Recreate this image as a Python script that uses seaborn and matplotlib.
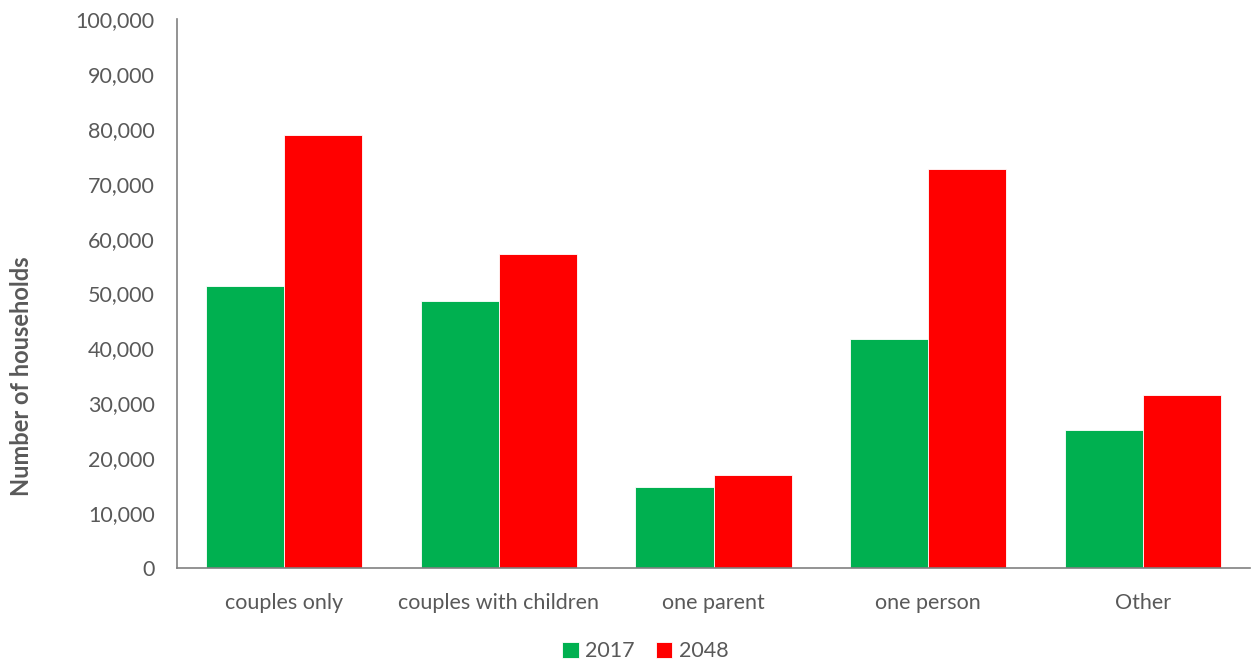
import matplotlib
matplotlib.use("Agg")
import matplotlib.pyplot as plt
import seaborn as sns
import pandas as pd
from matplotlib.ticker import FuncFormatter, MultipleLocator

categories = ["couples only", "couples with children", "one parent", "one person", "Other"]
years = ["2017", "2048"]
values_2017 = [51400, 48600, 14700, 41800, 25100]
values_2048 = [78900, 57200, 17000, 72700, 31600]
colors = ["#00B050", "#FF0000"]

df = pd.DataFrame({
    "category": categories * 2,
    "year": [years[0]] * len(categories) + [years[1]] * len(categories),
    "value": values_2017 + values_2048,
})

sns.set_theme(style="white")
plt.rcParams["font.family"] = ["Lato", "DejaVu Sans"]

fig = plt.figure(figsize=(12.58, 6.64), dpi=100)
ax = fig.add_axes([177 / 1258, 1 - 568 / 664, (1250 - 177) / 1258, (568 - 19) / 664])

sns.barplot(data=df, x="category", y="value", hue="year", order=categories,
            hue_order=years, palette=colors, width=0.727, gap=0,
            edgecolor="white", linewidth=0.6, saturation=1, ax=ax, legend=True)

ax.set_ylim(0, 100000)
ax.set_xlim(-0.5, len(categories) - 0.5)
ax.yaxis.set_major_locator(MultipleLocator(10000))
ax.yaxis.set_major_formatter(FuncFormatter(lambda v, p: f"{int(v):,}"))
ax.set_xlabel("")
ax.set_ylabel("")
fig.text(22 / 1258, 1 - 376 / 664, "Number of households", rotation=90, fontsize=17,
         fontweight="bold", color="#595959", ha="center", va="center")

for s in ["top", "right"]:
    ax.spines[s].set_visible(False)
for s in ["left", "bottom"]:
    ax.spines[s].set_color("#808080")
    ax.spines[s].set_linewidth(1.2)

ax.tick_params(axis="y", length=0, pad=16, labelsize=15.5, labelcolor="#595959")
ax.tick_params(axis="x", length=0, pad=18, labelsize=15.5, labelcolor="#595959")

handles, labels = ax.get_legend_handles_labels()
ax.get_legend().remove()
fig.legend(handles, labels, loc="lower center", bbox_to_anchor=(0.513, -0.025), ncol=2,
           frameon=False, fontsize=15.5, labelcolor="#595959", handlelength=0.75,
           handleheight=0.75, handletextpad=0.3, columnspacing=1.0)

fig.savefig("out.png", dpi=100)
